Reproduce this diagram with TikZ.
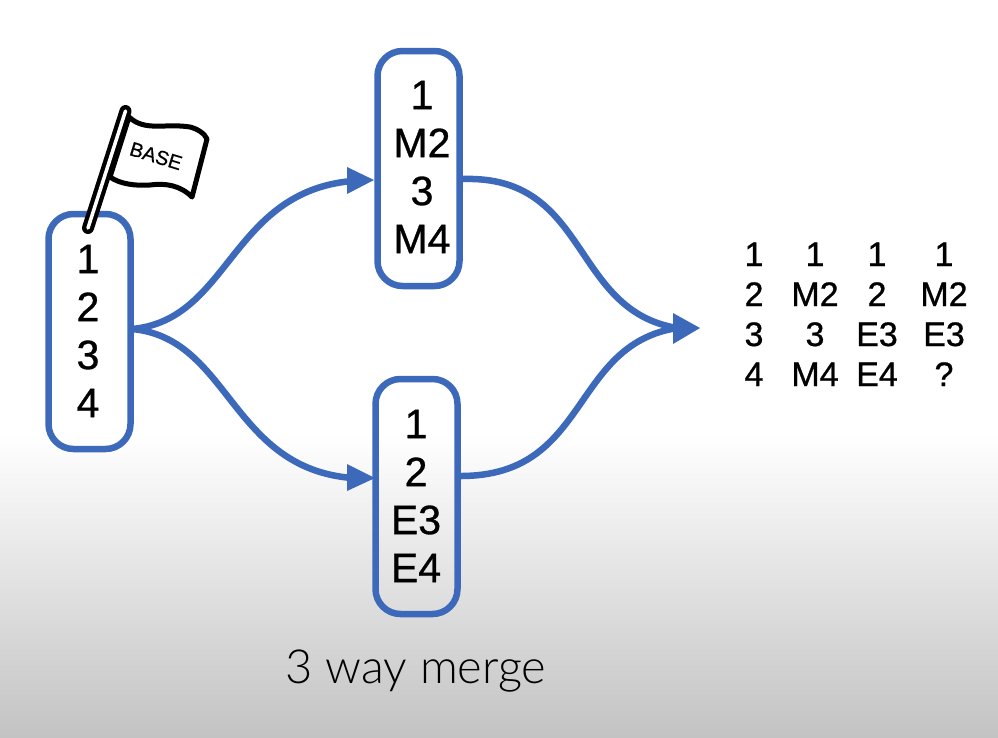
\documentclass[tikz,border=0pt]{standalone}
\usepackage{fontspec}
\setmainfont{Liberation Sans}
\newfontfamily\thinfont{Lato Light}
\usetikzlibrary{arrows.meta}
\definecolor{flowblue}{HTML}{3D69BA}
\definecolor{bggray}{HTML}{C3C3C3}
\tikzset{
 stack/.style={draw=flowblue,line width=6.5pt,rounded corners=25pt,fill=none,minimum width=82pt,minimum height=235pt,inner sep=0pt},
 stacktext/.style={font=\addfontfeature{FakeBold=0.8}\fontsize{41}{48}\selectfont,align=center,inner sep=0pt},
 flow/.style={draw=flowblue,line width=6.5pt},
 tip/.style={fill=flowblue,draw=none},
 cell/.style={font=\addfontfeature{FakeBold=0.8}\fontsize{34}{34}\selectfont,inner sep=0pt,anchor=base},
}
\begin{document}
\begin{tikzpicture}[x=1pt,y=-1pt]
\useasboundingbox (0,0) rectangle (998,737);
\fill[white] (0,0) rectangle (998,737);
\shade[top color=white,bottom color=bggray] (0,435) rectangle (998,737);
% stacks
\node[stack] (base) at (89.5,331.5) {};
\node[stack] (main) at (418.5,168.5) {};
\node[stack] (edit) at (416.5,496.5) {};
\node[stacktext] at (88,331) {1\\2\\3\\4};
\node[stacktext] at (422,167) {1\\M2\\3\\M4};
\node[stacktext] at (416,496) {1\\2\\E3\\E4};
% connectors
\coordinate (split) at (132,329);
\coordinate (join) at (677,328);
\coordinate (mainin) at (352,181);
\coordinate (editin) at (352,478);
\draw[flow] (split) .. controls (230,320) and (230,192) .. (mainin);
\draw[flow] (split) .. controls (230,338) and (230,468) .. (editin);
\draw[flow] (main.east|-0,179) .. controls (590,175) and (570,310) .. (join);
\draw[flow] (edit.east|-0,476) .. controls (590,476) and (570,345) .. (join);
\fill[tip] (374,180) -- (347,167) -- (347,194) -- cycle;
\fill[tip] (375,478) -- (347,464) -- (347,491) -- cycle;
\fill[tip] (700,328) -- (673,313) -- (673,344) -- cycle;
% table
\foreach \x/\a/\b/\c/\d [count=\i] in {754/1/2/3/4,815/1/M2/3/M4,877/1/2/E3/E4,944/1/M2/E3/?}{
 \node[cell] (a\i) at (\x,266) {\a};
 \node[cell] (b\i) at (\x,306) {\b};
 \node[cell] (c\i) at (\x,346) {\c};
 \node[cell] (d\i) at (\x,386) {\d};
}
% flag
\draw[line width=5pt,line join=round,fill=white] (129,117) .. controls (145,132) and (165,123) .. (190,127) .. controls (198,129) and (205,134) .. (207,139) -- (192,197) .. controls (180,185) and (165,183) .. (150,185) .. controls (135,186) and (120,184) .. (110,177) -- cycle;
\draw[line width=12pt,line cap=round] (125.5,111) -- (88,228);
\draw[line width=3.5pt,line cap=round,white] (125.5,111) -- (88,228);
\node[rotate=-17,font=\addfontfeature{FakeBold=0.5}\fontsize{20}{20}\selectfont,inner sep=0pt] (flaglabel) at (156,156) {BASE};
% caption
\node[font=\thinfont\fontsize{47}{47}\selectfont,inner sep=0pt] (caption) at (416,671) {3 way merge};
\end{tikzpicture}
\end{document}
